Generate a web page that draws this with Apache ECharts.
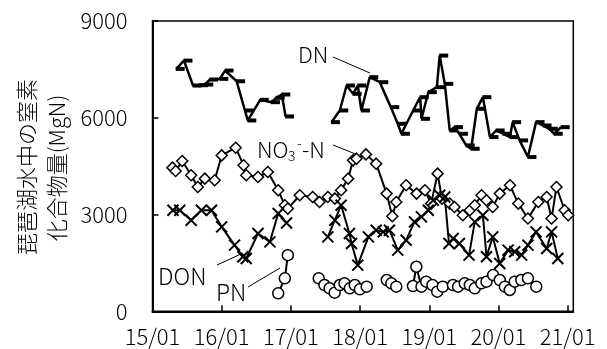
<!DOCTYPE html>
<html>
<head>
<meta charset="utf-8">
<script src="https://cdn.jsdelivr.net/npm/echarts@6/dist/echarts.min.js"></script>
<style>
  html, body { margin: 0; padding: 0; background: #fff; }
  #chart { width: 607px; height: 349px; }
</style>
</head>
<body>
<div id="chart"></div>
<script>
// Nitrogen compounds in Lake Biwa water (MgN), 2015-2021
const yTicks = [0, 3000, 6000, 9000];
const xYears = [2015, 2016, 2017, 2018, 2019, 2020, 2021];

// DN (null = no survey, line break)
const dnDates = ['2015-05-06','2015-06-16','2015-08-03','2015-09-05','2015-10-04','2015-10-30','2015-12-22','2016-01-19','2016-03-20','2016-05-03','2016-05-18','2016-07-23','2016-09-20','2016-10-15','2016-11-14','2016-12-04',
  '2017-03-01',
  '2017-08-03','2017-09-16','2017-10-22','2017-11-25','2017-12-20','2018-01-08','2018-02-21','2018-04-15','2018-06-12','2018-07-19','2018-08-07','2018-10-08','2018-11-14','2018-11-21','2018-12-27','2019-02-10','2019-02-25','2019-03-24','2019-04-19','2019-05-14','2019-06-09','2019-07-15','2019-08-10','2019-09-09','2019-10-11','2019-11-17','2019-12-20','2020-01-26','2020-03-02','2020-03-16','2020-04-22','2020-06-05','2020-07-18','2020-08-24','2020-09-26','2020-10-22','2020-11-28'];
const dnValues = [7515,7772,6999,7010,7030,7185,7206,7463,7132,6226,5917,6557,6483,6619,6721,6041,
  null,
  5864,6226,7000,6742,7000,6226,7257,7103,6330,5813,5504,6226,6638,5968,6793,6948,7928,7051,5606,5709,5504,5142,5039,6278,6638,5401,5606,5504,5401,5864,5298,4782,5864,5761,5658,5504,5709];

// NO3--N
const no3Dates = ['2015-04-16','2015-05-03','2015-06-07','2015-07-24','2015-08-28','2015-10-04','2015-11-25','2016-01-01','2016-03-15','2016-04-26','2016-05-10','2016-07-11','2016-09-01','2016-10-26','2016-11-30','2016-12-16','2017-02-17','2017-04-26','2017-06-01','2017-07-15','2017-08-21','2017-09-23','2017-10-30','2017-11-25','2017-12-13','2018-02-01','2018-03-27','2018-05-21','2018-06-20','2018-07-11','2018-09-01','2018-10-26','2018-12-09','2019-01-11','2019-02-14','2019-03-09','2019-04-19','2019-05-14','2019-06-27','2019-08-03','2019-08-29','2019-10-04','2019-10-30','2019-12-02','2020-01-08','2020-03-02','2020-04-15','2020-06-05','2020-07-30','2020-09-12','2020-10-08','2020-11-03','2020-12-16','2021-01-04'];
const no3Values = [4454,4349,4659,4216,3854,4113,4061,4834,5072,4525,4216,4164,4319,3752,3287,3185,3597,3545,3390,3545,3494,3751,4113,4680,4732,4865,4577,3649,2947,3390,3907,3649,3752,3340,4268,3494,3340,3236,2979,3133,3287,3597,3442,3236,3649,3907,3340,2876,3390,3545,2876,3854,3133,2979];

// DON
const donDates = ['2015-04-19','2015-05-25','2015-07-24','2015-09-16','2015-11-08','2016-01-01','2016-03-09','2016-04-22','2016-05-10','2016-07-11','2016-09-12','2016-10-26','2016-12-09',
  '2017-03-01',
  '2017-07-15','2017-08-21','2017-09-23','2017-11-06','2017-11-17','2017-12-20','2018-02-14','2018-03-27','2018-05-03','2018-06-05','2018-07-19','2018-09-01','2018-10-15','2018-11-21','2018-12-27','2019-01-22','2019-02-25','2019-03-24','2019-04-15','2019-05-07','2019-06-09','2019-07-30','2019-08-29','2019-10-11','2019-10-30','2019-12-02','2020-01-08','2020-02-21','2020-03-27','2020-05-03','2020-06-05','2020-07-18','2020-09-12','2020-10-08','2020-11-10'];
const donValues = [3133,3133,2824,3133,3133,2618,2051,1690,1638,2411,2153,3031,2740,
  null,
  2308,2824,3287,2411,2102,1432,2308,2514,2463,2514,1896,2205,2772,2927,3133,3442,3597,3545,2102,2257,2102,1741,2772,2979,1690,2308,1484,1896,1844,1741,2051,2463,1948,2463,1638];

// PN
const pnDates = ['2016-10-26','2016-11-30','2016-12-16',
  '2017-03-01',
  '2017-05-28','2017-06-27','2017-07-24','2017-08-20','2017-09-16','2017-10-11','2017-11-08','2017-12-04','2017-12-31','2018-02-05',
  '2018-03-15',
  '2018-05-22','2018-06-15','2018-07-11',
  '2018-08-15',
  '2018-10-07','2018-10-25','2018-11-21','2018-12-16','2019-01-18','2019-02-12','2019-03-13','2019-05-06','2019-06-02','2019-07-07','2019-08-03','2019-08-29','2019-10-03','2019-10-30','2019-12-04','2020-01-08','2020-02-04','2020-03-01','2020-03-27','2020-05-01','2020-06-05','2020-07-19'];
const pnValues = [557,1021,1741,
  null,
  1021,814,711,577,814,866,711,814,680,763,
  null,
  969,866,763,
  null,
  783,1381,763,918,814,608,763,814,763,866,814,711,866,918,1123,969,763,660,918,969,1021,763];

// date string -> decimal year
function toYear(s) {
  const d = new Date(s + 'T00:00:00Z');
  const y = d.getUTCFullYear();
  const a = Date.UTC(y, 0, 1), b = Date.UTC(y + 1, 0, 1);
  return y + (d.getTime() - a) / (b - a);
}
function pairs(dates, values) {
  return dates.map((s, i) => [toYear(s), values[i] == null ? '-' : values[i]]);
}

const FONT = '"Noto Sans CJK JP", "Noto Sans", sans-serif';
const W = 300; // light text weight
const chart = echarts.init(document.getElementById('chart'), null, { renderer: 'canvas' });

const common = {
  type: 'line',
  showAllSymbol: true,
  connectNulls: false,
  animation: false,
  z: 3
};

function txt(text, x, y, size, extra) {
  return Object.assign({
    type: 'text', x: x, y: y,
    style: { text: text, font: W + ' ' + size + 'px ' + FONT, fill: '#000', align: 'left', verticalAlign: 'middle' }
  }, extra || {});
}
function lead(x1, y1, x2, y2) {
  return { type: 'line', shape: { x1, y1, x2, y2 }, style: { stroke: '#000', lineWidth: 1 } };
}

chart.setOption({
  animation: false,
  backgroundColor: '#fff',
  grid: {
    left: 152.5, right: 33.7, top: 21, bottom: 37.7,
    show: true, borderColor: '#000', borderWidth: 1.5, backgroundColor: 'transparent'
  },
  xAxis: {
    type: 'value',
    min: xYears[0],
    max: 2021.082,
    interval: 1,
    splitLine: { show: false },
    axisLine: { show: true, lineStyle: { color: '#000', width: 2 } },
    axisTick: { show: true, inside: true, length: 6, lineStyle: { color: '#000', width: 1.5 } },
    axisLabel: {
      color: '#000', fontSize: 22, fontWeight: W, fontFamily: FONT, margin: 14,
      showMaxLabel: false,
      formatter: v => {
        const r = Math.round(v);
        if (Math.abs(v - r) > 1e-6 || xYears.indexOf(r) < 0) return '';
        return String(r).slice(2) + '/01';
      }
    }
  },
  yAxis: {
    type: 'value',
    min: yTicks[0],
    max: yTicks[yTicks.length - 1],
    interval: 3000,
    splitLine: { show: false },
    axisLine: { show: true, lineStyle: { color: '#000', width: 2 } },
    axisTick: { show: true, inside: true, length: 6, lineStyle: { color: '#000', width: 1.5 } },
    axisLabel: { color: '#000', fontSize: 22, fontWeight: W, fontFamily: FONT, margin: 25, formatter: v => String(v) }
  },
  series: [
    Object.assign({}, common, {
      name: 'DN',
      data: pairs(dnDates, dnValues),
      symbol: 'rect', symbolSize: [9, 4], symbolOffset: [4, 0],
      itemStyle: { color: '#000' },
      lineStyle: { color: '#000', width: 2.5 }
    }),
    Object.assign({}, common, {
      name: 'NO3-N',
      data: pairs(no3Dates, no3Values),
      symbol: 'diamond', symbolSize: 11,
      itemStyle: { color: '#fff', borderColor: '#000', borderWidth: 1.5 },
      lineStyle: { color: '#000', width: 2 }
    }),
    Object.assign({}, common, {
      name: 'DON',
      data: pairs(donDates, donValues),
      symbol: 'path://M0,0L10,10M10,0L0,10', symbolSize: 11,
      itemStyle: { color: '#000', borderColor: '#000', borderWidth: 2 },
      lineStyle: { color: '#000', width: 2 }
    }),
    Object.assign({}, common, {
      name: 'PN',
      data: pairs(pnDates, pnValues),
      symbol: 'circle', symbolSize: 11,
      itemStyle: { color: '#fff', borderColor: '#000', borderWidth: 1.5 },
      lineStyle: { color: '#000', width: 2 }
    })
  ],
  graphic: [
    // y-axis title (two lines, rotated)
    txt('琵琶湖水中の窒素', 27, 167, 22, { rotation: Math.PI / 2 }),
    txt('化合物量(MgN)', 57, 168, 22, { rotation: Math.PI / 2 }),
    // series labels with leader lines
    txt('DN', 298, 55, 22),
    lead(333, 57, 370, 73),
    txt('NO', 257, 150, 22),
    txt('3', 288, 156, 14),
    txt('-', 297, 143, 14),
    txt('-N', 302, 150, 22),
    lead(333, 145, 358, 155),
    txt('DON', 158, 276, 23),
    lead(217, 265, 243, 253),
    txt('PN', 216, 292, 23),
    lead(248, 287, 280, 268)
  ].map(g => {
    // rotated titles are centred on their anchor
    if (g.rotation) { g.style.align = 'center'; }
    return g;
  })
});
</script>
</body>
</html>
